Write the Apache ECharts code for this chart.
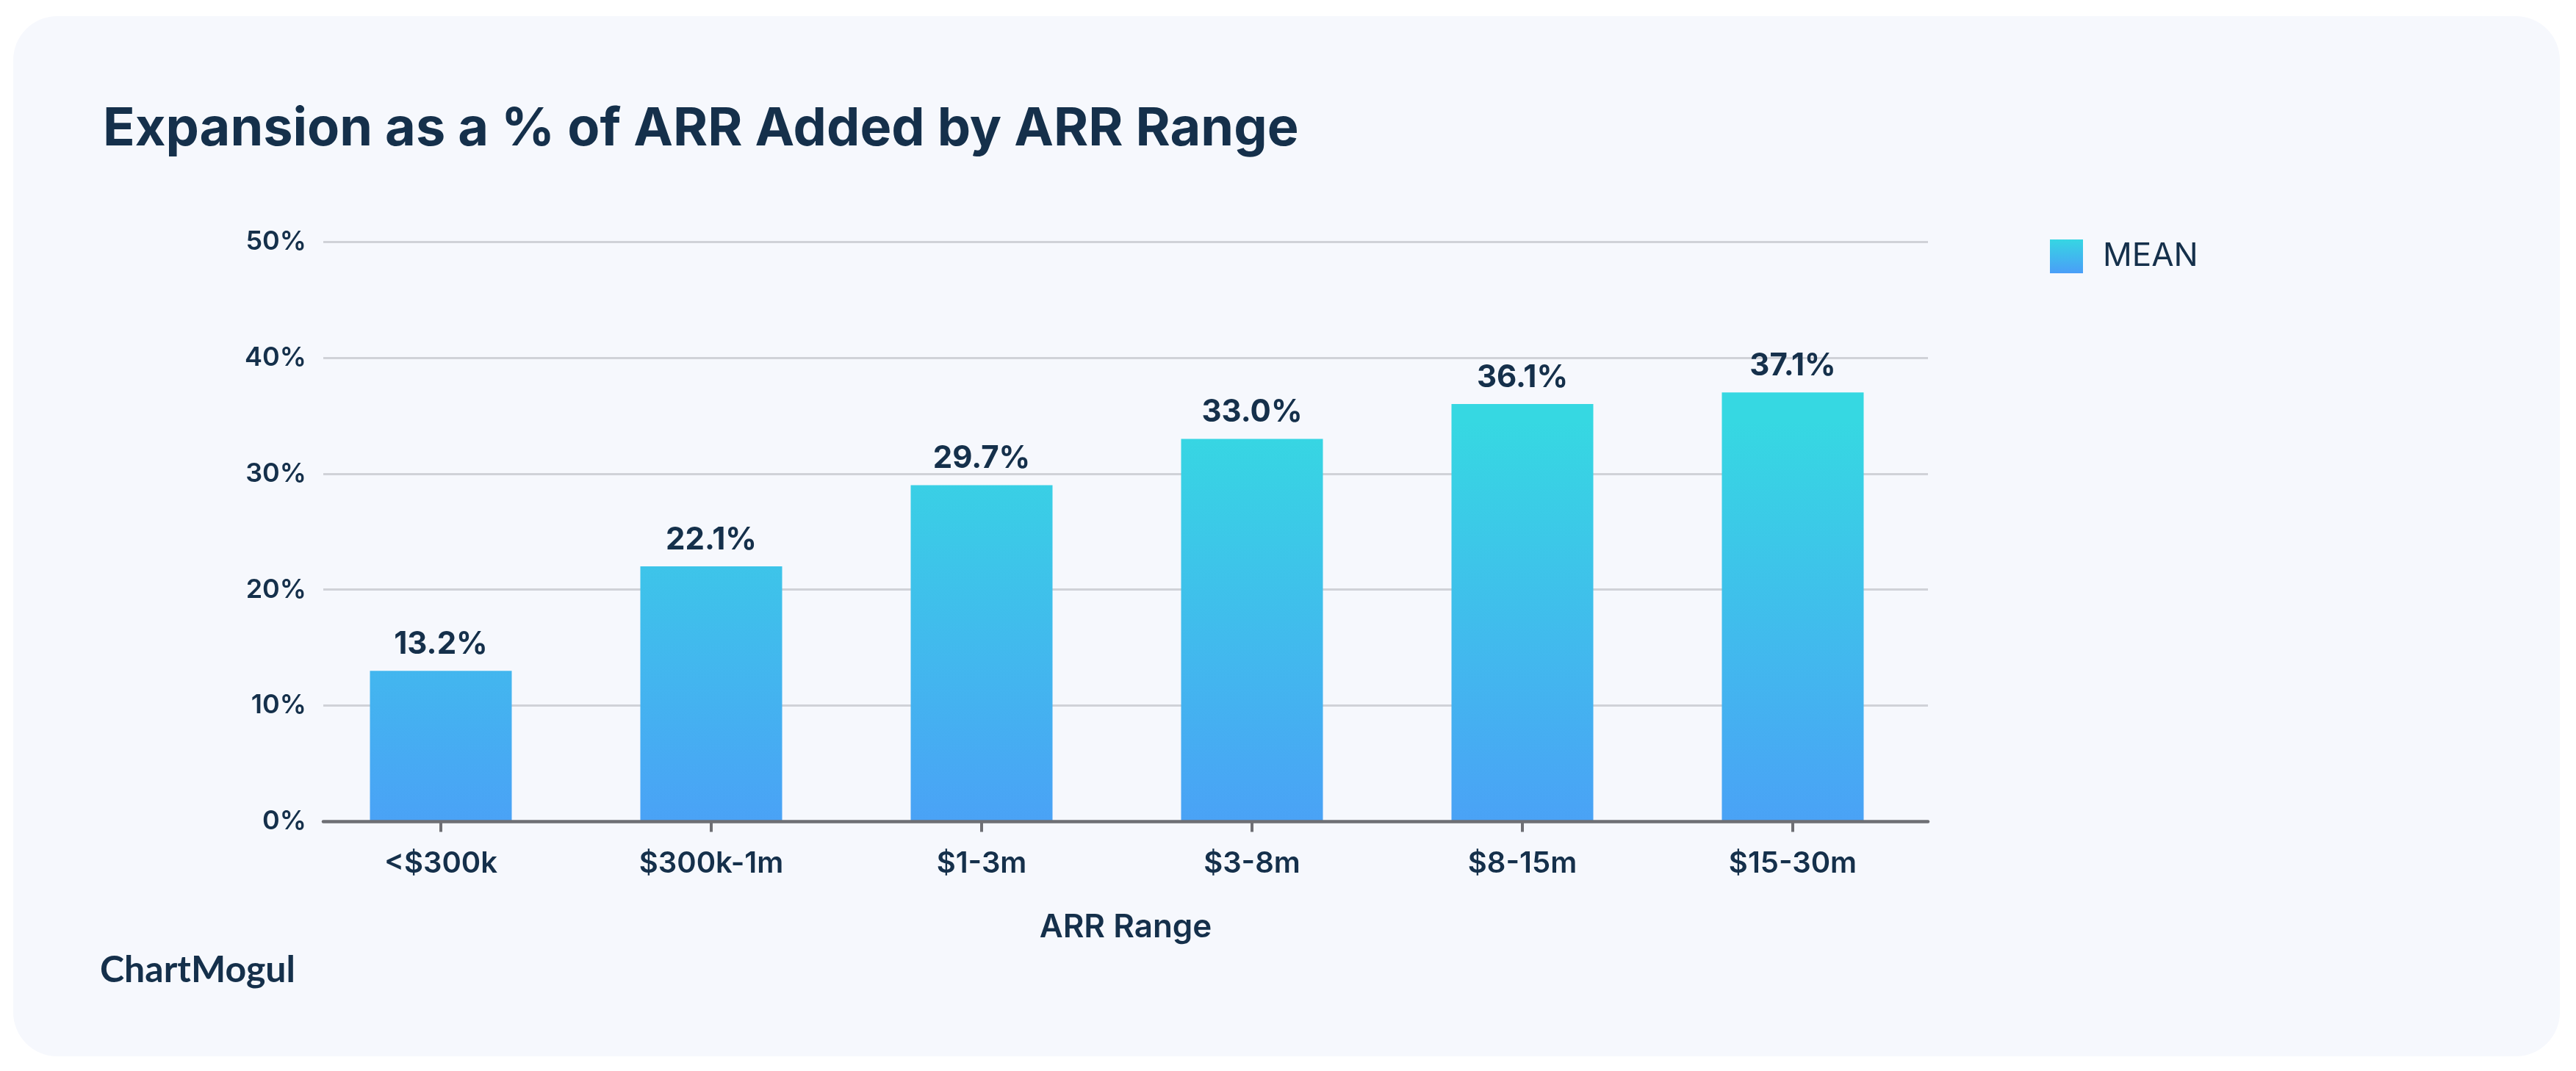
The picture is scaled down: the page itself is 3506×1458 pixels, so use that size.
<!DOCTYPE html>
<html>
<head>
<meta charset="utf-8">
<script src="https://cdn.jsdelivr.net/npm/echarts@6/dist/echarts.min.js"></script>
<style>
html,body{margin:0;padding:0;background:#ffffff;}
#chart{width:3506px;height:1458px;}
</style>
</head>
<body>
<div id="chart"></div>
<script>
const titleText = 'Expansion as a % of ARR Added by ARR Range';
const categories = ['<$300k', '$300k-1m', '$1-3m', '$3-8m', '$8-15m', '$15-30m'];
const barValues = [13, 22, 29, 33, 36, 37];
const labelValues = [13.2, 22.1, 29.7, 33.0, 36.1, 37.1];
const yTicks = [0, 10, 20, 30, 40, 50];
const seriesName = 'MEAN';
const xAxisName = 'ARR Range';
const brand = 'ChartMogul';

const textColor = '#15304b';
const font = 'Inter';

const chart = echarts.init(document.getElementById('chart'), null, {renderer: 'canvas'});

const barGradient = {
  type: 'linear', x: 0, y: 1118.5, x2: 0, y2: 573, global: true,
  colorStops: [{offset: 0, color: '#4aa2f6'}, {offset: 1, color: '#36d8e2'}]
};
const legendGradient = {
  type: 'linear', x: 0, y: 1, x2: 0, y2: 0,
  colorStops: [{offset: 0, color: '#4a9ef8'}, {offset: 1, color: '#36d6e3'}]
};

chart.setOption({
  animation: false,
  backgroundColor: 'transparent',
  graphic: [
    {type: 'rect', z: -10, shape: {x: 18, y: 22, width: 3466, height: 1416, r: 60}, style: {fill: '#f6f8fd'}},
    {type: 'text', z: 10, x: 140, y: 176, style: {text: titleText, fill: textColor, font: '700 72px Inter', textVerticalAlign: 'middle'}},
    {type: 'text', z: 10, x: 136, y: 1321, style: {text: brand, fill: textColor, font: '700 50px Lato', textVerticalAlign: 'middle'}}
  ],
  legend: {
    left: 2790, top: 326, padding: 0,
    itemWidth: 45, itemHeight: 46,
    data: [{name: seriesName, icon: 'rect', itemStyle: {color: legendGradient}}],
    textStyle: {fontFamily: font, fontSize: 44, fontWeight: 400, color: textColor, padding: [20, 0, 0, 22]}
  },
  grid: [
    {left: 416, right: 882, top: 329, bottom: 339.5, outerBoundsMode: 'none'},
    {left: 440, right: 882, top: 329, bottom: 339.5, outerBoundsMode: 'none'}
  ],
  xAxis: [
    {
      type: 'category', gridIndex: 0, data: categories,
      axisLine: {show: false},
      axisTick: {show: true, alignWithLabel: true, length: 14, lineStyle: {width: 4, color: '#6e6f74'}},
      axisLabel: {margin: 37, fontFamily: font, fontSize: 40, fontWeight: 600, color: textColor},
      splitLine: {show: false}
    },
    {
      type: 'category', gridIndex: 1, data: categories, z: 5,
      axisLine: {show: true, lineStyle: {width: 4.5, color: '#6e6f74'}},
      axisTick: {show: false},
      axisLabel: {show: false},
      splitLine: {show: false},
      name: xAxisName, nameLocation: 'middle', nameGap: 122,
      nameTextStyle: {fontFamily: font, fontSize: 44, fontWeight: 600, color: textColor}
    }
  ],
  yAxis: [
    {type: 'value', gridIndex: 0, min: yTicks[0], max: yTicks[yTicks.length - 1], interval: 10, show: false, splitLine: {show: false}},
    {
      type: 'value', gridIndex: 1, min: yTicks[0], max: yTicks[yTicks.length - 1], interval: 10,
      axisLine: {show: false}, axisTick: {show: false},
      axisLabel: {formatter: '{value}%', margin: 23, fontFamily: font, fontSize: 36, fontWeight: 600, color: textColor},
      splitLine: {show: true, lineStyle: {width: 3, color: '#d0d2d8'}}
    }
  ],
  series: [{
    name: seriesName, type: 'bar', xAxisIndex: 0, yAxisIndex: 0,
    data: barValues, barWidth: 193,
    itemStyle: {color: barGradient},
    label: {
      show: true, position: 'top', distance: 15,
      fontFamily: font, fontSize: 42, fontWeight: 700, color: textColor,
      formatter: p => labelValues[p.dataIndex].toFixed(1) + '%'
    }
  }]
});
</script>
</body>
</html>
